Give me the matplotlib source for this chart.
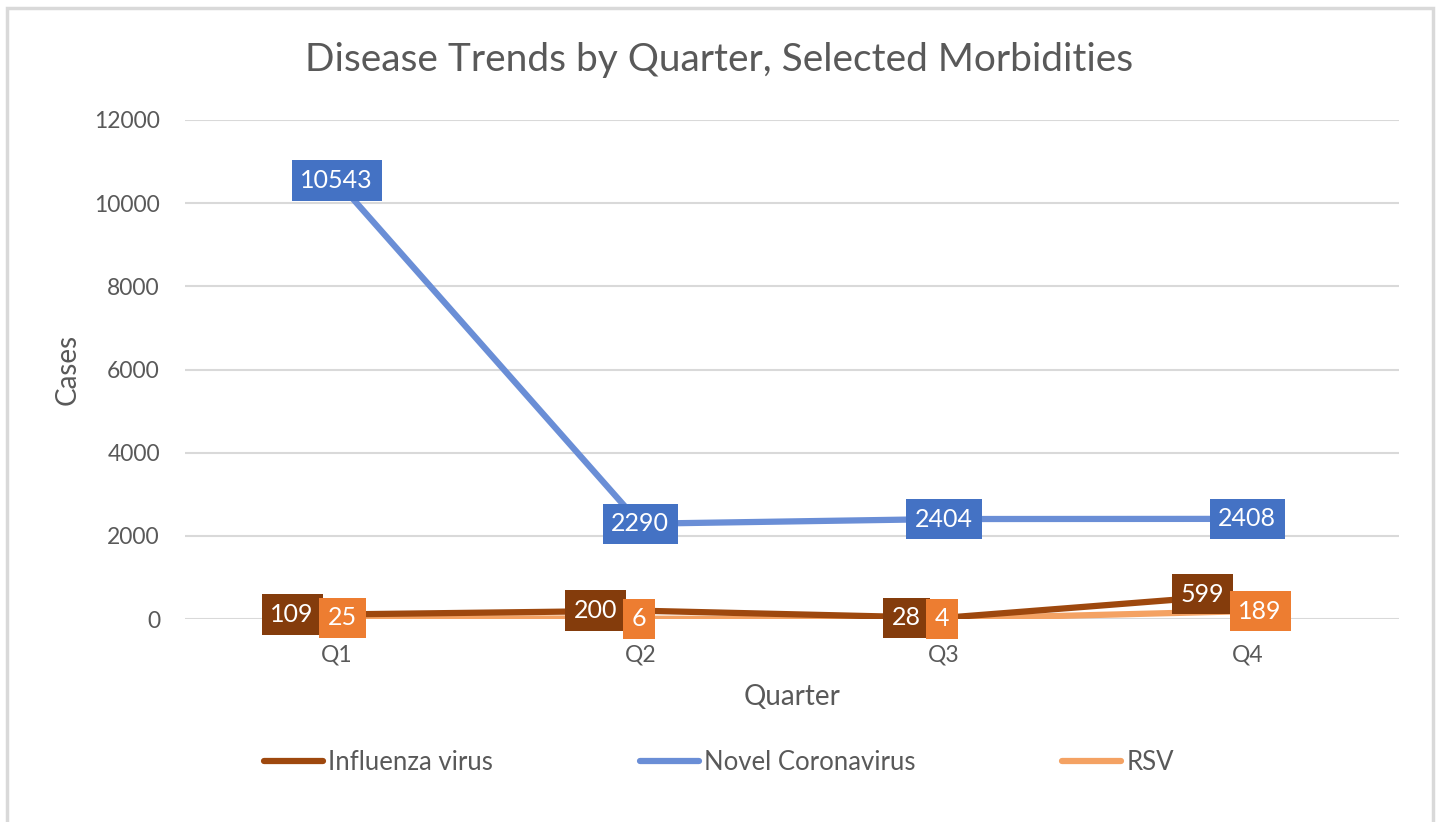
import matplotlib.pyplot as plt
from matplotlib.patches import Rectangle

# --- 데이터 ---
quarters = ["Q1", "Q2", "Q3", "Q4"]
influenza = [109, 200, 28, 599]
coronavirus = [10543, 2290, 2404, 2408]
rsv = [25, 6, 4, 189]
y_ticks = [0, 2000, 4000, 6000, 8000, 10000, 12000]

# --- 색상 ---
flu_line, flu_box = "#9E480E", "#843C0C"
cov_line, cov_box = "#6A8ED6", "#4472C4"
rsv_line, rsv_box = "#F4A263", "#ED7D31"
text_gray = "#595959"

plt.rcParams['font.family'] = ['Lato', 'DejaVu Sans']

W, H = 1438, 822
fig = plt.figure(figsize=(W / 100, H / 100), dpi=100)

# 바깥 테두리 (Excel 차트 영역)
fig.patches.append(Rectangle((7 / W, -0.05), (1433 - 7) / W, 1.05 - 8 / H,
                             transform=fig.transFigure, fill=False,
                             edgecolor="#D9D9D9", lw=2.5))

ax = fig.add_axes([185 / W, (H - 619) / H, (1399 - 185) / W, (619 - 120) / H])
x = list(range(len(quarters)))

ax.plot(x, influenza, color=flu_line, lw=4.5, solid_capstyle="round", label="Influenza virus", zorder=3)
ax.plot(x, coronavirus, color=cov_line, lw=4.5, solid_capstyle="round", label="Novel Coronavirus", zorder=3)
ax.plot(x, rsv, color=rsv_line, lw=4.5, solid_capstyle="round", label="RSV", zorder=2)

ax.set_xlim(-0.5, len(quarters) - 0.5)
ax.set_ylim(0, 12000)
ax.set_yticks(y_ticks)
ax.set_xticks(x)
ax.set_xticklabels(quarters)
ax.grid(axis="y", color="#D9D9D9", lw=1.5)
ax.set_axisbelow(True)
for s in ax.spines.values():
    s.set_visible(False)
ax.tick_params(length=0, labelsize=16.5, colors=text_gray)
ax.tick_params(axis="x", pad=18)
ax.tick_params(axis="y", pad=18)

ax.set_xlabel("Quarter", fontsize=20, color=text_gray, labelpad=14)
ax.set_ylabel("Cases", fontsize=20, color=text_gray, labelpad=10)
fig.text(0.5, (H - 60) / H, "Disease Trends by Quarter, Selected Morbidities",
         ha="center", va="center", fontsize=28, color=text_gray)


def label(xi, yi, txt, color, dx, ha):
    ax.annotate(txt, (xi, yi), xytext=(dx, 0), textcoords="offset pixels",
                ha=ha, va="center", fontsize=18, color="white", zorder=5,
                bbox=dict(boxstyle="square,pad=0.35", fc=color, ec="none"))


for i in x:
    label(i, coronavirus[i], str(coronavirus[i]), cov_box, 0, "center")
    label(i, influenza[i], str(influenza[i]), flu_box, -23, "right")
    label(i, rsv[i], str(rsv[i]), rsv_box, -9, "left")

leg = fig.legend(loc="center", bbox_to_anchor=(0.5, (H - 762) / H), ncol=3,
                 frameon=False, fontsize=18.5, handlelength=2.3, handletextpad=0.2,
                 columnspacing=5.7)
for t in leg.get_texts():
    t.set_color(text_gray)

fig.savefig("out.png", dpi=100)
